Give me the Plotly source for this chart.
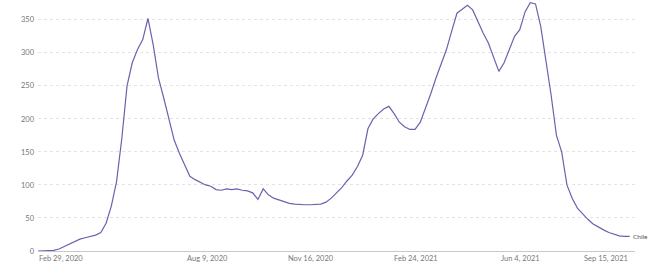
import plotly.graph_objects as go
import pandas as pd

# Daily new confirmed COVID-19 cases per million people – Chile (every 5 days)
start_date = "2020-02-29"
step_days = 5
values = [0, 0, 0.5, 1, 3, 7, 11, 14, 18, 20, 22, 24, 28, 42, 68, 105, 170, 250, 285, 305,
          320, 352, 312, 262, 232, 198, 168, 148, 130, 113, 108, 104, 100, 98, 93, 92, 94, 93, 94, 92,
          91, 88, 78, 94, 85, 80, 77, 75, 72, 71, 70, 70, 70, 70, 71, 74, 80, 88, 96, 106,
          115, 128, 145, 185, 200, 208, 215, 219, 208, 195, 188, 184, 184, 195, 215, 238, 262, 285, 305, 333,
          360, 366, 372, 365, 347, 330, 315, 295, 272, 285, 305, 325, 335, 362, 376, 374, 340, 290, 235, 175,
          150, 100, 80, 65, 56, 48, 41, 36, 32, 28, 25, 23, 22, 22]
dates = pd.date_range(start_date, periods=len(values), freq=f"{step_days}D")

series_name = "Chile"
y_ticks = [0, 50, 100, 150, 200, 250, 300, 350]
x_tick_dates = ["2020-02-29", "2020-08-09", "2020-11-16", "2021-02-24", "2021-06-04", "2021-09-15"]
x_tick_labels = ["Feb 29, 2020", "Aug 9, 2020", "Nov 16, 2020", "Feb 24, 2021", "Jun 4, 2021", "Sep 15, 2021"]

line_color = "#6b62ad"
tick_color = "#777777"

fig = go.Figure()
fig.add_trace(go.Scatter(x=dates, y=values, mode="lines",
                         line=dict(color=line_color, width=1.2), name=series_name,
                         hoverinfo="skip", cliponaxis=False))

fig.update_layout(
    width=654, height=266,
    margin=dict(l=38, r=19, t=0, b=15),
    paper_bgcolor="white", plot_bgcolor="white",
    showlegend=False,
    font=dict(family="Lato", size=8, color=tick_color),
)
fig.update_xaxes(
    range=[pd.Timestamp(dates[0]), pd.Timestamp("2021-09-21")],
    showticklabels=False, automargin=False,
    showgrid=False, zeroline=False, showline=True, linecolor="#c8c8c8", linewidth=1,
    ticks="",
)
fig.update_yaxes(
    range=[0, 380], tickvals=y_ticks, ticktext=[str(v) for v in y_ticks],
    showgrid=True, gridcolor="#e3e3e3", griddash="dot", gridwidth=1, automargin=False,
    zeroline=False, showline=False, ticks="", ticklabelstandoff=3,
    tickfont=dict(size=7.5, color=tick_color),
)
n_ticks = len(x_tick_dates)
for i, (d, lab) in enumerate(zip(x_tick_dates, x_tick_labels)):
    anchor = "left" if i == 0 else ("right" if i == n_ticks - 1 else "center")
    fig.add_annotation(x=d, y=0, xref="x", yref="paper", text=lab,
                       showarrow=False, xanchor=anchor, yanchor="top", yshift=-2,
                       borderpad=0, font=dict(size=7.5, color=tick_color))
fig.add_annotation(x=dates[-1], y=values[-1], xref="x", yref="y", text=series_name,
                   showarrow=False, xanchor="left", yanchor="middle", xshift=2, borderpad=0,
                   font=dict(size=6.5, color="#555555"))

fig.write_html("out.html", config={"displayModeBar": False},
               post_script="document.body.style.margin='0';")
